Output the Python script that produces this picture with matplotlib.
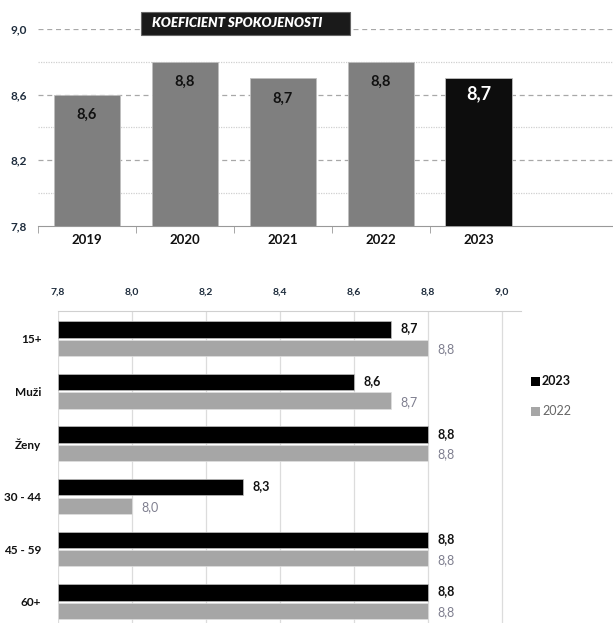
import matplotlib
matplotlib.use("Agg")
import matplotlib.pyplot as plt
from matplotlib.ticker import FixedLocator

plt.rcParams['font.family'] = ['Lato', 'DejaVu Sans']

# ---- data ----
years = ["2019", "2020", "2021", "2022", "2023"]
coef = [8.6, 8.8, 8.7, 8.8, 8.7]
top_yticks = [7.8, 8.2, 8.6, 9.0]
top_minor_grid = [8.0, 8.4, 8.8]

groups = ["15+", "Muži", "Ženy", "30 - 44", "45 - 59", "60+"]
vals_2023 = [8.7, 8.6, 8.8, 8.3, 8.8, 8.8]
vals_2022 = [8.8, 8.7, 8.8, 8.0, 8.8, 8.8]
bottom_xticks = [7.8, 8.0, 8.2, 8.4, 8.6, 8.8, 9.0]
title_text = "KOEFICIENT SPOKOJENOSTI"

def fmt(v):
    return f"{v:.1f}".replace(".", ",")

W, H = 613, 623
fig = plt.figure(figsize=(W / 100, H / 100), dpi=100)

# ---------------- top chart ----------------
ax1 = fig.add_axes([38 / W, 1 - 226 / H, (W - 38) / W, (226 - 29) / H])
x = list(range(len(years)))
colors = ["#7f7f7f"] * (len(years) - 1) + ["#0d0d0d"]
ax1.bar(x, [c - 7.8 for c in coef], bottom=7.8, width=0.68, color=colors,
        edgecolor="#bfbfbf", linewidth=0.6, zorder=3)
ax1.set_xlim(-0.5, 5.37)
ax1.set_ylim(7.8, 9.0)
for g in top_yticks[1:]:
    ax1.axhline(g, color="#a8a8a8", linestyle=(0, (4, 3)), linewidth=0.9, zorder=1)
for g in top_minor_grid:
    ax1.axhline(g, color="#d0d0d0", linestyle=(0, (1, 1)), linewidth=0.9, zorder=1)
ax1.set_yticks(top_yticks)
ax1.set_yticklabels([fmt(v) for v in top_yticks], fontsize=8.5, fontweight="bold",
                    color="#1f2d3d")
ax1.tick_params(axis="y", length=0, pad=8)
ax1.set_xticks(x)
ax1.set_xticklabels(years, fontsize=9.5, fontweight="bold", color="#111111")
ax1.tick_params(axis="x", length=0, pad=6)
ax1.xaxis.set_minor_locator(FixedLocator([i - 0.5 for i in range(len(years))]))
ax1.tick_params(axis="x", which="minor", length=5, color="#999999", direction="out")
for s in ["top", "right", "left"]:
    ax1.spines[s].set_visible(False)
ax1.spines["bottom"].set_color("#999999")
for i, v in enumerate(coef):
    if i == len(coef) - 1:
        ax1.text(i, v - 0.045, fmt(v), ha="center", va="top", fontsize=13,
                 fontweight="bold", color="white", zorder=4)
    else:
        ax1.text(i, v - 0.08, fmt(v), ha="center", va="top", fontsize=10.5,
                 fontweight="bold", color="#111111", zorder=4)

# title box
fig.patches.append(plt.Rectangle((141 / W, 1 - 35 / H), (350 - 141) / W, 23 / H,
                                 transform=fig.transFigure, facecolor="#1a1a1a",
                                 edgecolor="#666666", linewidth=0.8, zorder=0))
fig.text(237 / W, 1 - 23 / H, title_text, ha="center", va="center", fontsize=9.5,
         fontweight="heavy", style="italic", color="white")

# ---------------- bottom chart ----------------
ax2 = fig.add_axes([58 / W, 0, (520.5 - 58) / W, (H - 311) / H])
n = len(groups)
y = list(range(n))
h = 0.31
ax2.barh([i - 0.18 for i in y], [v - 7.8 for v in vals_2023], left=7.8, height=h,
         color="#000000", edgecolor="#bfbfbf", linewidth=0.5, zorder=3, label="2023")
ax2.barh([i + 0.17 for i in y], [v - 7.8 for v in vals_2022], left=7.8, height=h,
         color="#a6a6a6", edgecolor="#e0e0e0", linewidth=0.5, zorder=3, label="2022")
ax2.set_xlim(7.8, 9.05)
ax2.set_ylim(5.4, -0.53)
ax2.xaxis.tick_top()
ax2.set_xticks(bottom_xticks)
ax2.set_xticklabels([fmt(v) for v in bottom_xticks], fontsize=7.5, fontweight="bold",
                    color="#1f2d3d")
ax2.tick_params(axis="x", length=0, pad=10)
ax2.grid(axis="x", color="#dcdcdc", linewidth=0.9, zorder=0)
ax2.set_yticks(y)
ax2.set_yticklabels(groups, fontsize=8.5, fontweight="bold", color="#111111")
ax2.tick_params(axis="y", length=0, pad=12)
for s in ["right", "left", "bottom"]:
    ax2.spines[s].set_visible(False)
ax2.spines["top"].set_color("#d0d0d0")
for i in y:
    ax2.text(vals_2023[i] + 0.025, i - 0.2, fmt(vals_2023[i]), ha="left", va="center",
             fontsize=9, fontweight="bold", color="#111111", zorder=4)
    ax2.text(vals_2022[i] + 0.025, i + 0.2, fmt(vals_2022[i]), ha="left", va="center",
             fontsize=9, color="#7f7f8f", zorder=4)

# legend
fig.patches.append(plt.Rectangle((531 / W, 1 - 386 / H), 9 / W, 9 / H,
                                 transform=fig.transFigure, facecolor="#000000",
                                 edgecolor="none"))
fig.text(542 / W, 1 - 381 / H, "2023", ha="left", va="center", fontsize=9,
         fontweight="bold", color="#111111")
fig.patches.append(plt.Rectangle((531 / W, 1 - 416 / H), 9 / W, 9 / H,
                                 transform=fig.transFigure, facecolor="#a6a6a6",
                                 edgecolor="none"))
fig.text(542 / W, 1 - 411 / H, "2022", ha="left", va="center", fontsize=9,
         color="#666666")

fig.savefig("out.png", dpi=100, facecolor="white")
